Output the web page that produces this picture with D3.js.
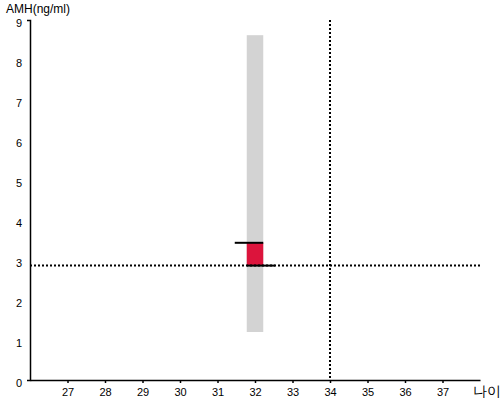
<!DOCTYPE html>
<html><head><meta charset="utf-8">
<script src="https://cdn.jsdelivr.net/npm/d3@7"></script>
<style>body{margin:0;background:#fff}svg{display:block}text{font-family:"Liberation Sans",Arial,sans-serif}</style>
</head><body>
<svg id="c" width="500" height="400"></svg>
<script>
const xTicks = [27,28,29,30,31,32,33,34,35,36,37];
const yTicks = [0,1,2,3,4,5,6,7,8,9];
const rangeBar = {age: 32, low: 1.2, high: 8.62};
const valueBar = {age: 32, low: 2.86, high: 3.43};
const refAge = [34];
const refAmh = [2.86];
const labels = {x: "나이", y: "AMH(ng/ml)"};

const svg = d3.select("#c");
const x = d3.scaleLinear().domain([26,38]).range([30,480]);
const y = d3.scaleLinear().domain([0,9]).range([380,20]);

const xa = svg.append("g").attr("transform","translate(0,380)")
  .call(d3.axisBottom(x).tickValues(xTicks).tickSizeInner(3).tickSizeOuter(0));
xa.selectAll("text").attr("font-size",11).attr("fill","#000").attr("dy","0.9em");
xa.selectAll("path,line").attr("stroke","#000").attr("stroke-width",1.5);

const ya = svg.append("g").attr("transform","translate(30,0)")
  .call(d3.axisLeft(y).tickValues(yTicks).tickSizeInner(0).tickSizeOuter(3).tickPadding(8));
ya.selectAll("text").attr("font-size",11).attr("fill","#000").attr("dy","0.6em");
ya.selectAll("path,line").attr("stroke","#000").attr("stroke-width",1.5);

const bw = x(32.22) - x(32);
svg.append("rect").attr("x", x(rangeBar.age)-bw).attr("width", 2*bw)
  .attr("y", y(rangeBar.high)).attr("height", y(rangeBar.low)-y(rangeBar.high))
  .attr("fill","#d3d3d3");
svg.append("rect").attr("x", x(valueBar.age)-bw).attr("width", 2*bw)
  .attr("y", y(valueBar.high)).attr("height", y(valueBar.low)-y(valueBar.high))
  .attr("fill","#dc143c");

// dotted reference lines
svg.selectAll(".vref").data(refAge).join("line")
  .attr("x1", d=>x(d)).attr("x2", d=>x(d)).attr("y1", y(9)).attr("y2", y(0))
  .attr("stroke","#000").attr("stroke-width",2).attr("stroke-dasharray","2,2");
svg.selectAll(".href").data(refAmh).join("line")
  .attr("x1", x(26)).attr("x2", x(38)).attr("y1", d=>y(d)).attr("y2", d=>y(d))
  .attr("stroke","#000").attr("stroke-width",2).attr("stroke-dasharray","2,2");

// marker lines
svg.append("line").attr("x1", x(valueBar.age)-bw-12).attr("x2", x(valueBar.age)+bw)
  .attr("y1", y(valueBar.high)).attr("y2", y(valueBar.high)).attr("stroke","#000").attr("stroke-width",2);
svg.append("line").attr("x1", x(valueBar.age)-bw).attr("x2", x(valueBar.age)+bw+12)
  .attr("y1", y(valueBar.low)).attr("y2", y(valueBar.low)).attr("stroke","#000").attr("stroke-width",2);

svg.append("text").attr("x",6).attr("y",13).attr("font-size",12).attr("fill","#000").text(labels.y);
svg.append("text").attr("x",473).attr("y",396).attr("font-size",14).attr("fill","#000").text(labels.x);
</script>
</body></html>
